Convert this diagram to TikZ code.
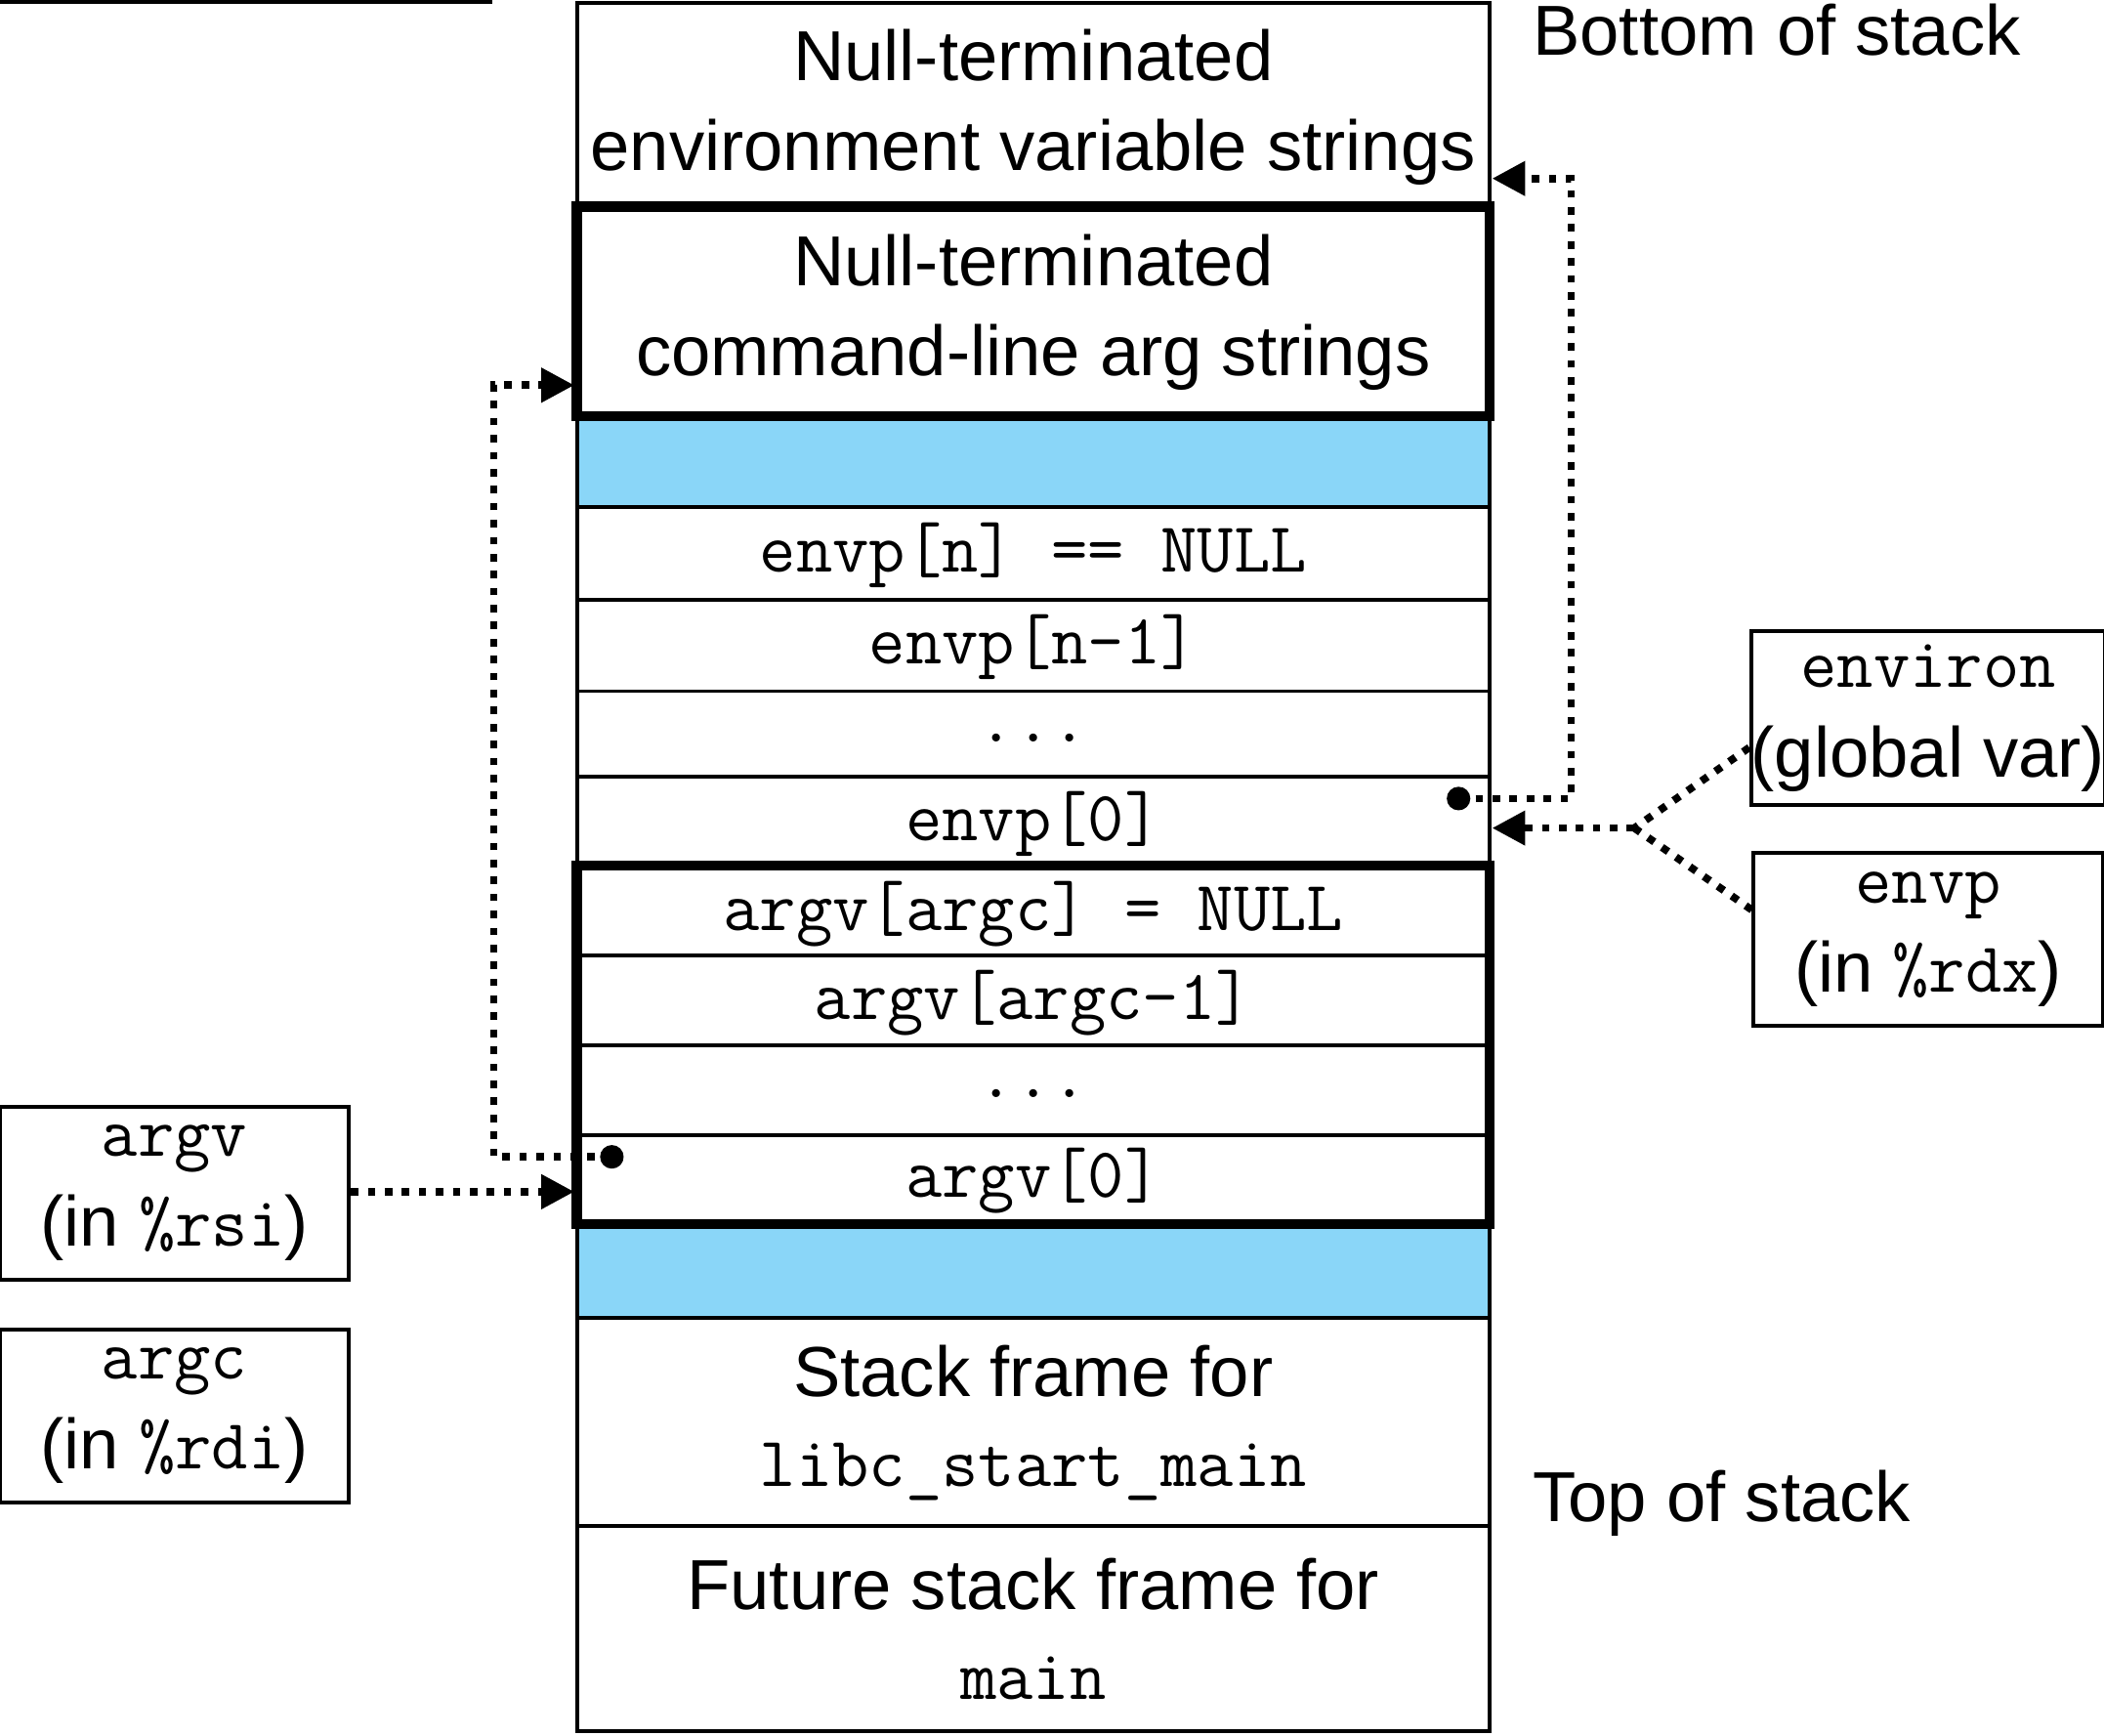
\documentclass[tikz,border=0pt]{standalone}
\usepackage{fontspec}
\setmainfont{Liberation Sans}
\setmonofont{Latin Modern Mono}
\usetikzlibrary{arrows.meta}
\definecolor{cell}{RGB}{138,214,248}
\begin{document}
\begin{tikzpicture}[x=0.01cm,y=-0.01cm,
  txt/.style={font=\fontsize{15}{19}\selectfont,align=center},
  cellbox/.style={draw,line width=0.8pt},
  thick box/.style={draw,line width=2.2pt},
  ptr/.style={line width=1.6pt,dotted,-{Triangle[length=7pt,width=7pt]}},
  dotp/.style={circle,fill,inner sep=0pt,minimum size=5pt}]
\useasboundingbox (0,0) rectangle (1568,1293);
% cells
\fill[cell] (430,310) rectangle (1110,378);
\fill[cell] (430,912) rectangle (1110,982);
\foreach \a/\b in {2/154,310/378,378/447,447/515,515/579,579/645,645/712,712/779,779/846,846/912,912/982,982/1137,1137/1290}
  \draw[cellbox] (430,\a) rectangle (1110,\b);
\draw[thick box] (430,154) rectangle (1110,310);
\draw[thick box] (430,645) rectangle (1110,912);
\node[txt] (env) at (770,80) {Null-terminated\\environment variable strings};
\node[txt] (cmd) at (770,233) {Null-terminated\\command-line arg strings};
\node[txt] (e1) at (770,414) {\texttt{envp[n] == NULL}};
\node[txt] (e2) at (770,482) {\texttt{envp[n-1]}};
\node[txt] (e3) at (770,550) {\texttt{...}};
\node[txt] (e4) at (770,614) {\texttt{envp[0]}};
\node[txt] (a1) at (770,681) {\texttt{argv[argc] = NULL}};
\node[txt] (a2) at (770,747) {\texttt{argv[argc-1]}};
\node[txt] (a3) at (770,815) {\texttt{...}};
\node[txt] (a4) at (770,880) {\texttt{argv[0]}};
\node[txt] (sf) at (770,1060) {Stack frame for\\\texttt{libc\_start\_main}};
\node[txt] (fsf) at (770,1214) {Future stack frame for\\\texttt{main}};
\node[txt,anchor=west] (bot) at (1130,22) {Bottom of stack};
\node[txt,anchor=west] (top) at (1130,1120) {Top of stack};
% side boxes
\node[txt,cellbox,minimum width=260\pgflinewidth,inner sep=0pt] at (0,0) {};
\node[txt,draw,line width=0.8pt,minimum width=2.6cm,minimum height=1.29cm,inner sep=0pt] (argv) at (130,889) {\texttt{argv}\\(in \texttt{\%rsi})};
\node[txt,draw,line width=0.8pt,minimum width=2.6cm,minimum height=1.29cm,inner sep=0pt] (argc) at (130,1055) {\texttt{argc}\\(in \texttt{\%rdi})};
\node[txt,draw,line width=0.8pt,minimum width=2.6cm,minimum height=1.29cm,inner sep=0pt] (environ) at (1437,535) {\texttt{environ}\\(global var)};
\node[txt,draw,line width=0.8pt,minimum width=2.6cm,minimum height=1.29cm,inner sep=0pt] (envp) at (1437,700) {\texttt{envp}\\(in \texttt{\%rdx})};
% pointers
\node[dotp] (d1) at (456,862) {};
\coordinate (t1) at (428,287);
\draw[ptr] (d1.center) -- (368,862) -- (368,287) -- (t1);
\coordinate (t2) at (428,888);
\draw[ptr] (argv.east |- t2) -- (t2);
\node[dotp] (d2) at (1087,595) {};
\coordinate (t3) at (1112,133);
\draw[ptr] (d2.center) -- (1171,595) -- (1171,133) -- (t3);
\coordinate (j) at (1218,617);
\coordinate (t4) at (1112,617);
\draw[line width=1.6pt,dotted] (environ.west |- 0,557) -- (j);
\draw[line width=1.6pt,dotted] (envp.west |- 0,678) -- (j);
\draw[ptr] (j) -- (t4);
\end{tikzpicture}
\end{document}
